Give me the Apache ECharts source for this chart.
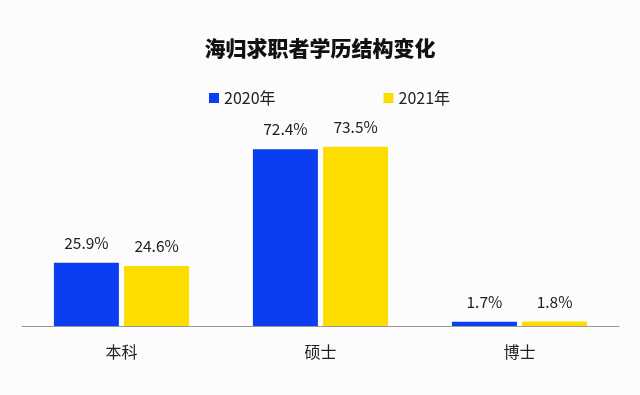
<!DOCTYPE html>
<html><head><meta charset="utf-8">
<script src="https://cdn.jsdelivr.net/npm/echarts@6/dist/echarts.min.js"></script>
<style>html,body{margin:0;padding:0;background:#fcfcfd;}#c{width:640px;height:395px;}</style>
</head><body><div id="c"></div>
<script>
var categories = ['本科', '硕士', '博士'];
var seriesNames = ['2020年', '2021年'];
var values2020 = [25.9, 72.4, 1.7];
var values2021 = [24.6, 73.5, 1.8];
var titleText = '海归求职者学历结构变化';

var font = '"Noto Sans CJK SC", "Noto Sans", sans-serif';
var chart = echarts.init(document.getElementById('c'));
var labelCfg = {show: true, position: 'top', distance: 12, fontSize: 15.5, color: '#222', fontFamily: font,
  formatter: function(p){ return p.value.toFixed(1) + '%'; }};
chart.setOption({
  backgroundColor: '#fcfcfd',
  animation: false,
  title: {text: titleText, left: 'center', top: 33,
    textStyle: {fontSize: 21, fontWeight: 900, color: '#111', fontFamily: font}},
  legend: {data: seriesNames, left: 204, top: 85, itemWidth: 10, itemHeight: 10, itemGap: 108,
    icon: 'rect', textStyle: {fontSize: 16, color: '#222', fontFamily: font}},
  grid: {left: 22, right: 21, top: 82, bottom: 69},
  xAxis: {type: 'category', data: categories,
    axisLine: {lineStyle: {color: '#999', width: 1}},
    axisTick: {length: 5, lineStyle: {color: '#999'}},
    axisLabel: {fontSize: 16, color: '#222', margin: 18, fontFamily: font}},
  yAxis: {type: 'value', min: 0, max: 100, show: false, splitLine: {show: false}},
  series: [
    {name: seriesNames[0], type: 'bar', data: values2020, barWidth: 65, barGap: '8%',
      itemStyle: {color: '#0a3ef0'}, label: labelCfg},
    {name: seriesNames[1], type: 'bar', data: values2021, barWidth: 65, barGap: '8%',
      itemStyle: {color: '#fddc00'}, label: labelCfg}
  ]
});
</script></body></html>
